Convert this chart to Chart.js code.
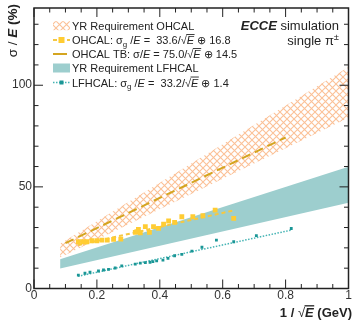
<!DOCTYPE html>
<html>
<head>
<meta charset="utf-8">
<script src="https://cdn.jsdelivr.net/npm/chart.js@4"></script>
<style>
  html, body { margin: 0; padding: 0; background: #fff; }
  canvas { display: block; }
</style>
</head>
<body>
<canvas id="resChart" width="357" height="321"></canvas>
<script>
// values
var ohcalX = [0.141, 0.155, 0.168, 0.184, 0.2, 0.216, 0.233, 0.253, 0.276, 0.322, 0.327, 0.332, 0.338, 0.354, 0.367, 0.38, 0.396, 0.412, 0.428, 0.447, 0.47, 0.505, 0.537, 0.576, 0.635];
var ohcalY = [23.0, 23.0, 23.0, 23.5, 23.5, 23.8, 23.8, 24.2, 24.3, 27.6, 28.0, 29.1, 27.4, 30.4, 27.6, 30.4, 29.6, 31.7, 33.2, 32.5, 35.3, 35.3, 35.8, 38.6, 34.5];
var ohcalFitX = [0.14, 0.635];
var ohcalFitY = [21.3, 38.4];

var tbX = [0.1, 0.8];
var tbY = [22.3, 74.3];

var lfhX = [0.141, 0.162, 0.178, 0.205, 0.221, 0.237, 0.258, 0.279, 0.322, 0.338, 0.354, 0.369, 0.378, 0.39, 0.41, 0.426, 0.447, 0.47, 0.502, 0.534, 0.58, 0.635, 0.707, 0.818];
var lfhY = [6.6, 7.5, 8.0, 8.6, 9.1, 9.4, 10.1, 11.1, 12.0, 12.5, 12.7, 12.9, 13.2, 13.6, 14.0, 14.8, 16.1, 16.8, 18.4, 20.3, 23.8, 23.0, 26.0, 29.5];
var lfhFitX = [0.14, 0.82];
var lfhFitY = [6.0, 28.8];

var yrOhcalX = [0.083, 0.5, 1.0];
var yrOhcalLo = [15.2, 46.5, 84.0];
var yrOhcalHi = [22.0, 61.5, 109.0];

var yrLfhX = [0.083, 1.0];
var yrLfhLo = [9.9, 42.2];
var yrLfhHi = [14.4, 59.9];

var xTickVals = [0, 0.2, 0.4, 0.6, 0.8, 1];
var xTickLabels = ['0', '0.2', '0.4', '0.6', '0.8', '1'];
var yTickVals = [0, 50, 100];
var yTickLabels = ['0', '50', '100'];

var FONT = '"Liberation Sans", Arial, sans-serif';
var TXT = '#222';

function pts(xs, ys) {
    return xs.map(function(x, i) { return { x: x, y: ys[i] }; });
}

function hatchPattern() {
    var s = 7;
    var c = document.createElement('canvas');
    c.width = s; c.height = s;
    var g = c.getContext('2d');
    g.strokeStyle = 'rgba(250,178,125,0.8)';
    g.lineWidth = 1.1;
    g.beginPath();
    g.moveTo(0, 0); g.lineTo(s, s);
    g.moveTo(s, 0); g.lineTo(0, s);
    g.stroke();
    return g.createPattern(c, 'repeat');
}

// draw a run of text pieces (sub, sup, italic, bold, overline)
function rich(ctx, x, y, parts, size, measureOnly) {
    var cx = x;
    parts.forEach(function(p) {
        var fs = (p.sub || p.sup) ? size * 0.72 : size;
        ctx.font = (p.i ? 'italic ' : '') + (p.b ? 'bold ' : '') + fs + 'px ' + FONT;
        var w = ctx.measureText(p.t).width;
        if (!measureOnly) {
            var dy = p.sub ? size * 0.25 : (p.sup ? -size * 0.38 : 0);
            ctx.fillText(p.t, cx, y + dy);
            if (p.over) {
                ctx.save();
                ctx.strokeStyle = TXT;
                ctx.lineWidth = p.b ? 1.3 : 0.9;
                ctx.beginPath();
                ctx.moveTo(cx - 0.5, y - size * 0.86);
                ctx.lineTo(cx + w + 0.5, y - size * 0.86);
                ctx.stroke();
                ctx.restore();
            }
        }
        cx += w;
    });
    return cx - x;
}

var hatch = hatchPattern();

var decor = {
    id: 'decor',
    afterDraw: function(chart) {
        var ctx = chart.ctx;
        var a = chart.chartArea;
        var xs = chart.scales.x, ys = chart.scales.y;
        ctx.save();

        // frame
        ctx.strokeStyle = '#222';
        ctx.lineWidth = 1.5;
        ctx.strokeRect(a.left, a.top, a.right - a.left, a.bottom - a.top);

        // ticks, inside the frame on all four sides
        ctx.lineWidth = 1;
        ctx.beginPath();
        var v, p, len;
        for (var i = 0; i <= 20; i++) {
            v = i * 0.05;
            p = xs.getPixelForValue(v);
            len = (i % 4 === 0) ? 9 : 4.5;
            ctx.moveTo(p, a.bottom); ctx.lineTo(p, a.bottom - len);
            ctx.moveTo(p, a.top); ctx.lineTo(p, a.top + len);
        }
        for (var j = 0; j <= 13; j++) {
            v = j * 10;
            p = ys.getPixelForValue(v);
            len = (j % 5 === 0) ? 9 : 4.5;
            ctx.moveTo(a.left, p); ctx.lineTo(a.left + len, p);
            ctx.moveTo(a.right, p); ctx.lineTo(a.right - len, p);
        }
        ctx.stroke();

        // tick labels
        ctx.fillStyle = '#333';
        ctx.font = '12px ' + FONT;
        ctx.textAlign = 'center';
        ctx.textBaseline = 'alphabetic';
        xTickVals.forEach(function(t, k) {
            ctx.fillText(xTickLabels[k], xs.getPixelForValue(t), a.bottom + 10);
        });
        ctx.textAlign = 'right';
        yTickVals.forEach(function(t, k) {
            ctx.fillText(yTickLabels[k], a.left - 2, ys.getPixelForValue(t) + 3);
        });

        ctx.fillStyle = TXT;
        ctx.textAlign = 'left';

        // x title
        var xt = [
            { t: '1 / ', b: true },
            { t: '\u221A', b: false },
            { t: 'E', b: true, i: true, over: true },
            { t: ' (GeV)', b: true }
        ];
        var w = rich(ctx, 0, 0, xt, 13, true);
        rich(ctx, 352 - w, 317, xt, 13);

        // y title (rotated, flush with the top)
        ctx.save();
        ctx.translate(17, 4);
        ctx.rotate(-Math.PI / 2);
        var yt = [
            { t: '\u03C3 / ' },
            { t: 'E', b: true, i: true },
            { t: ' (%)', b: true }
        ];
        var wy = rich(ctx, 0, 0, yt, 13.5, true);
        rich(ctx, -wy, 0, yt, 13.5);
        ctx.restore();

        // ECCE label
        var e1 = [{ t: 'ECCE', b: true, i: true }, { t: ' simulation' }];
        var we = rich(ctx, 0, 0, e1, 13, true);
        rich(ctx, 339 - we, 30, e1, 13);
        var e2 = [{ t: 'single \u03C0' }, { t: '\u00B1', sup: true }];
        var we2 = rich(ctx, 0, 0, e2, 13, true);
        rich(ctx, 339 - we2, 45, e2, 13);

        // legend
        var lx = 72, sx0 = 53, sx1 = 70;
        var rows = [25.7, 40, 54, 68, 82.5];

        ctx.fillStyle = hatch;
        ctx.fillRect(sx0, rows[0] - 4.5, sx1 - sx0, 9);

        ctx.strokeStyle = '#f5c842';
        ctx.lineWidth = 2;
        ctx.setLineDash([4, 3]);
        ctx.beginPath(); ctx.moveTo(sx0, rows[1]); ctx.lineTo(sx1, rows[1]); ctx.stroke();
        ctx.setLineDash([]);
        ctx.fillStyle = '#ffcc33';
        ctx.fillRect(58.5, rows[1] - 3, 6, 6);

        ctx.strokeStyle = '#d4a520';
        ctx.lineWidth = 2;
        ctx.beginPath(); ctx.moveTo(sx0, rows[2]); ctx.lineTo(67, rows[2]); ctx.stroke();

        ctx.fillStyle = '#9dcece';
        ctx.fillRect(sx0, rows[3] - 4.5, sx1 - sx0, 9);

        ctx.strokeStyle = '#45b4b4';
        ctx.lineWidth = 1.5;
        ctx.setLineDash([1.5, 1.5]);
        ctx.beginPath(); ctx.moveTo(sx0, rows[4]); ctx.lineTo(sx1, rows[4]); ctx.stroke();
        ctx.setLineDash([]);
        ctx.fillStyle = '#1a9696';
        ctx.fillRect(59.5, rows[4] - 2, 4, 4);

        ctx.fillStyle = TXT;
        var fs = 11;
        var off = 4;
        rich(ctx, lx, rows[0] + off, [{ t: 'YR Requirement OHCAL' }], fs);
        rich(ctx, lx, rows[1] + off, [
            { t: 'OHCAL: \u03C3' }, { t: 'g', sub: true }, { t: ' /' }, { t: 'E', i: true },
            { t: ' =  33.6/' }, { t: '\u221A' }, { t: 'E', i: true, over: true }, { t: ' \u2295 16.8' }
        ], fs);
        rich(ctx, lx, rows[2] + off, [
            { t: 'OHCAL TB: \u03C3/' }, { t: 'E', i: true },
            { t: ' = 75.0/' }, { t: '\u221A' }, { t: 'E', i: true, over: true }, { t: ' \u2295 14.5' }
        ], fs);
        rich(ctx, lx, rows[3] + off, [{ t: 'YR Requirement LFHCAL' }], fs);
        rich(ctx, lx, rows[4] + off, [
            { t: 'LFHCAL: \u03C3' }, { t: 'g', sub: true }, { t: ' /' }, { t: 'E', i: true },
            { t: ' =  33.2/' }, { t: '\u221A' }, { t: 'E', i: true, over: true }, { t: ' \u2295 1.4' }
        ], fs);

        ctx.restore();
    }
};

var lineBase = { pointRadius: 0, tension: 0, fill: false };

new Chart(document.getElementById('resChart').getContext('2d'), {
    type: 'line',
    data: {
        datasets: [
            { label: 'OHCAL', data: pts(ohcalX, ohcalY), showLine: false, pointStyle: 'rect', pointRadius: 3.4, backgroundColor: '#ffcc33', borderColor: '#ffcc33', borderWidth: 0 },
            Object.assign({ label: 'OHCAL fit', data: pts(ohcalFitX, ohcalFitY), borderColor: '#f5c842', borderWidth: 2, borderDash: [4, 3] }, lineBase),
            { label: 'LFHCAL', data: pts(lfhX, lfhY), showLine: false, pointStyle: 'rect', pointRadius: 2, backgroundColor: '#1a9696', borderColor: '#1a9696', borderWidth: 0 },
            Object.assign({ label: 'LFHCAL fit', data: pts(lfhFitX, lfhFitY), borderColor: '#45b4b4', borderWidth: 1.5, borderDash: [1.5, 1.5] }, lineBase),
            Object.assign({ label: 'OHCAL TB', data: pts(tbX, tbY), borderColor: '#d4a520', borderWidth: 2, borderDash: [9, 5] }, lineBase),
            { label: 'YR LFHCAL hi', data: pts(yrLfhX, yrLfhHi), pointRadius: 0, tension: 0, borderWidth: 0, backgroundColor: '#9dcece', fill: 6 },
            Object.assign({ label: 'YR LFHCAL lo', data: pts(yrLfhX, yrLfhLo), borderWidth: 0 }, lineBase),
            { label: 'YR OHCAL hi', data: pts(yrOhcalX, yrOhcalHi), pointRadius: 0, tension: 0, borderWidth: 0, backgroundColor: hatch, fill: 8 },
            Object.assign({ label: 'YR OHCAL lo', data: pts(yrOhcalX, yrOhcalLo), borderWidth: 0 }, lineBase)
        ]
    },
    options: {
        responsive: false,
        animation: false,
        layout: { padding: { left: 34, right: 8.5, top: 8, bottom: 32.5 } },
        scales: {
            x: { type: 'linear', min: 0, max: 1, display: false },
            y: { type: 'linear', min: 0, max: 138, display: false }
        },
        plugins: { legend: { display: false }, tooltip: { enabled: false } }
    },
    plugins: [decor]
});
</script>
</body>
</html>
